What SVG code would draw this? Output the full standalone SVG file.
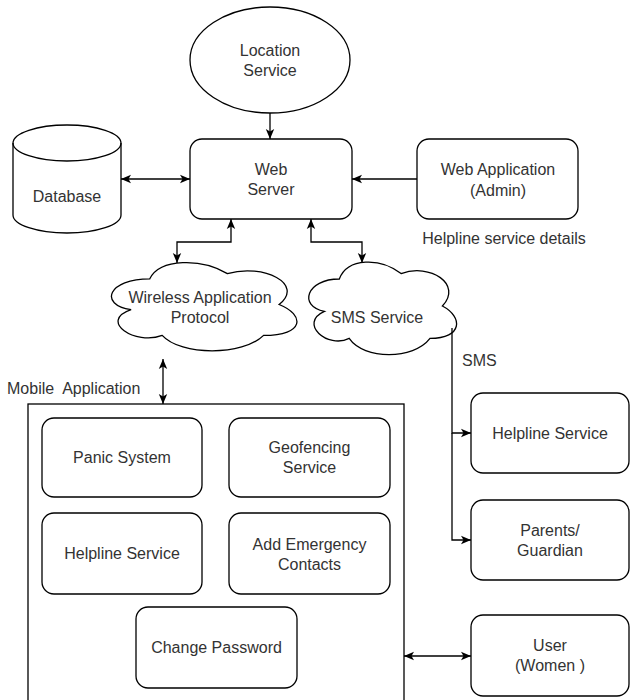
<svg xmlns="http://www.w3.org/2000/svg" width="630" height="700" viewBox="0 0 630 700">
<style>
.s{fill:#fff;stroke:#000;stroke-width:1.3}
.t{font-family:"Liberation Sans",Arial,sans-serif;font-size:16px;fill:#333;text-anchor:middle}
.l{font-family:"Liberation Sans",Arial,sans-serif;font-size:16px;fill:#333;white-space:pre}
.c{fill:none;stroke:#000;stroke-width:1.3}
</style>
<defs>
<marker id="a" viewBox="0 0 10 10" refX="10" refY="5" markerWidth="10" markerHeight="10" markerUnits="userSpaceOnUse" orient="auto-start-reverse">
<path d="M0,0.8 L10,5 L0,9.2 L2.5,5 Z" fill="#000"/>
</marker>
</defs>
<rect width="630" height="700" fill="#fff"/>

<g id="location-service">
<ellipse class="s" cx="270" cy="60" rx="80" ry="53"/>
<text class="t" x="270" y="55.5">Location</text>
<text class="t" x="270" y="75.5">Service</text>
</g>

<g id="web-server">
<rect class="s" x="190" y="139" width="162" height="80" rx="12"/>
<text class="t" x="271" y="174.5">Web</text>
<text class="t" x="271" y="194.5">Server</text>
</g>

<g id="database">
<path class="s" d="M13,143 A54,18 0 0 1 121,143 V215 A54,18 0 0 1 13,215 Z"/>
<path class="c" d="M13,143 A54,18 0 0 0 121,143"/>
<text class="t" x="67" y="201.5">Database</text>
</g>

<g id="web-application">
<rect class="s" x="417" y="139" width="161" height="80" rx="12"/>
<text class="t" x="498" y="174.5">Web Application</text>
<text class="t" x="498" y="195.5">(Admin)</text>
</g>

<g id="helpline-details-label">
<text class="t" x="504" y="243.5">Helpline service details</text>
</g>

<g id="wap-cloud">
<path class="s" d="M149.8,278.8 C108.4,278.8 98,304.5 131.1,309.7 C98,321 135.3,345.7 162.2,335.4 C180.8,356 242.9,356 263.6,335.4 C305,335.4 305,314.8 279.1,304.5 C305,283.9 263.6,263.3 227.4,273.6 C201.5,258.2 160.1,258.2 149.8,278.8 Z"/>
<text class="t" x="200" y="302.5">Wireless Application</text>
<text class="t" x="200" y="322.5">Protocol</text>
</g>

<g id="sms-cloud">
<path class="s" d="M339.3,279 C306.3,279 298,306 324.4,311.4 C298,323.3 327.7,349.2 349.2,338.4 C364,360 413.5,360 430,338.4 C463,338.4 463,316.8 442.4,306 C463,284.4 430,262.8 401.1,273.6 C380.5,257.4 347.5,257.4 339.3,279 Z"/>
<text class="t" x="377" y="322.5">SMS Service</text>
</g>

<g id="sms-label">
<text class="l" x="462" y="365.5">SMS</text>
</g>

<g id="mobile-application-label">
<text class="l" x="7" y="393.5" xml:space="preserve">Mobile  Application</text>
</g>

<g id="mobile-application">
<rect class="s" x="28" y="404" width="376" height="320"/>
</g>

<g id="panic-system">
<rect class="s" x="42" y="418" width="160" height="79" rx="12"/>
<text class="t" x="122" y="462.5">Panic System</text>
</g>

<g id="geofencing-service">
<rect class="s" x="229" y="418" width="161" height="79" rx="12"/>
<text class="t" x="309.5" y="452.5">Geofencing</text>
<text class="t" x="309.5" y="472.5">Service</text>
</g>

<g id="helpline-service-app">
<rect class="s" x="42" y="513" width="160" height="81" rx="12"/>
<text class="t" x="122" y="558.5">Helpline Service</text>
</g>

<g id="add-emergency-contacts">
<rect class="s" x="229" y="513" width="161" height="81" rx="12"/>
<text class="t" x="309.5" y="549.5">Add Emergency</text>
<text class="t" x="309.5" y="569.5">Contacts</text>
</g>

<g id="change-password">
<rect class="s" x="136" y="607" width="161" height="81" rx="12"/>
<text class="t" x="216.5" y="652.5">Change Password</text>
</g>

<g id="helpline-service">
<rect class="s" x="471" y="393" width="158" height="80" rx="12"/>
<text class="t" x="550" y="438.5">Helpline Service</text>
</g>

<g id="parents-guardian">
<rect class="s" x="471" y="500" width="158" height="80" rx="12"/>
<text class="t" x="550" y="535.5">Parents/</text>
<text class="t" x="550" y="555.5">Guardian</text>
</g>

<g id="user-women">
<rect class="s" x="471" y="615" width="158" height="81" rx="12"/>
<text class="t" x="550" y="650.5">User</text>
<text class="t" x="550" y="670.5">(Women )</text>
</g>

<g id="connectors">
<path class="c" d="M270,113 V139" marker-end="url(#a)"/>
<path class="c" d="M121,179 H190" marker-start="url(#a)" marker-end="url(#a)"/>
<path class="c" d="M417,179 H352" marker-end="url(#a)"/>
<path class="c" d="M231,219 V242 H177 V263" marker-start="url(#a)" marker-end="url(#a)"/>
<path class="c" d="M311,219 V242 H362 V263" marker-start="url(#a)" marker-end="url(#a)"/>
<path class="c" d="M452,328 V433 H471" marker-end="url(#a)"/>
<path class="c" d="M452,433 V540 H471" marker-end="url(#a)"/>
<path class="c" d="M163,359 V404" marker-start="url(#a)" marker-end="url(#a)"/>
<path class="c" d="M404,656 H471" marker-start="url(#a)" marker-end="url(#a)"/>
</g>
</svg>
